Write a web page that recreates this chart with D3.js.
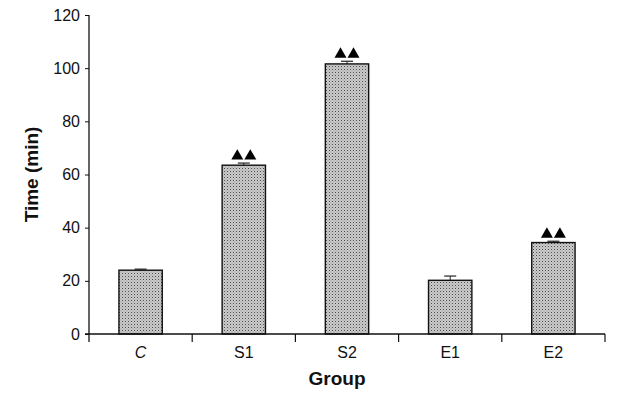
<!DOCTYPE html>
<html>
<head>
<meta charset="utf-8">
<script src="https://cdn.jsdelivr.net/npm/d3@7"></script>
<style>
  body { margin: 0; background: #fff; }
  svg text { font-family: "Liberation Sans", Arial, sans-serif; }
</style>
</head>
<body>
<svg id="chart" width="619" height="398"></svg>
<script>
// data
const groups = ['C', 'S1', 'S2', 'E1', 'E2'];
const means  = [24.0, 63.5, 101.6, 20.2, 34.4];
const errs   = [0.4, 0.8, 1.0, 1.6, 0.5];
const marked = [false, true, true, false, true];   // ▲▲ markers
const yTicks = [0, 20, 40, 60, 80, 100, 120];

const svg = d3.select('#chart');
const m = { t: 15, r: 14, b: 64, l: 89 };
const W = 619, H = 398;
const innerW = W - m.l - m.r, innerH = H - m.t - m.b;

const x = d3.scaleBand().domain(groups).range([0, innerW]).paddingInner(0.58).paddingOuter(0.29);
const y = d3.scaleLinear().domain([0, 120]).range([innerH, 0]);

// stipple fill
const defs = svg.append('defs');
const pat = defs.append('pattern').attr('id', 'dots')
  .attr('width', 3).attr('height', 3).attr('patternUnits', 'userSpaceOnUse');
pat.append('rect').attr('width', 3).attr('height', 3).attr('fill', '#cccccc');
pat.append('rect').attr('x', 0).attr('y', 0).attr('width', 1).attr('height', 1).attr('fill', '#4a4a4a');
pat.append('rect').attr('x', 1.5).attr('y', 1.5).attr('width', 1).attr('height', 1).attr('fill', '#8a8a8a');

const g = svg.append('g').attr('transform', `translate(${m.l},${m.t})`);

const data = groups.map((k, i) => ({ k, v: means[i], e: errs[i], mk: marked[i] }));
const cx = d => x(d.k) + x.bandwidth() / 2;

// error bars (behind bars)
const eb = g.append('g').selectAll('g').data(data).join('g');
eb.append('line')
  .attr('x1', cx).attr('x2', cx)
  .attr('y1', d => y(d.v)).attr('y2', d => y(d.v + d.e))
  .attr('stroke', '#222').attr('stroke-width', 1);
eb.append('line')
  .attr('x1', d => cx(d) - 6).attr('x2', d => cx(d) + 6)
  .attr('y1', d => y(d.v + d.e)).attr('y2', d => y(d.v + d.e))
  .attr('stroke', '#222').attr('stroke-width', 1.2);

g.append('g').selectAll('rect').data(data).join('rect')
  .attr('x', d => x(d.k)).attr('y', d => y(d.v))
  .attr('width', x.bandwidth()).attr('height', d => y(0) - y(d.v))
  .attr('fill', 'url(#dots)').attr('stroke', '#111').attr('stroke-width', 1.4);

// ▲▲ markers
const tri = d3.symbol().type(d3.symbolTriangle).size(62);
const mk = g.append('g').selectAll('g').data(data.filter(d => d.mk)).join('g')
  .attr('transform', d => `translate(${cx(d)},${y(d.v + d.e) - 7})`);
[-6.5, 6.5].forEach(dx => {
  mk.append('path').attr('d', tri).attr('transform', `translate(${dx},0)`).attr('fill', '#000');
});

// y axis
const yAxis = g.append('g')
  .call(d3.axisLeft(y).tickValues(yTicks).tickSize(4).tickPadding(5).tickSizeOuter(0));
yAxis.select('.domain').attr('d', `M0,${y(120)}V${innerH + 8}`).attr('stroke', '#111').attr('stroke-width', 1.3);
yAxis.selectAll('.tick line').attr('stroke', '#111');
yAxis.selectAll('text').attr('font-size', 16).attr('fill', '#111');

// x axis: line with ticks between groups
const xg = g.append('g').attr('transform', `translate(0,${innerH})`);
xg.append('line').attr('x1', -4).attr('x2', innerW).attr('y1', 0).attr('y2', 0)
  .attr('stroke', '#111').attr('stroke-width', 1.3);
const sepTicks = groups.map((k, i) => i + 1);
xg.selectAll('.sep').data(sepTicks).join('line').attr('class', 'sep')
  .attr('x1', i => i * innerW / groups.length).attr('x2', i => i * innerW / groups.length)
  .attr('y1', 0).attr('y2', 8).attr('stroke', '#111').attr('stroke-width', 1.2);
xg.selectAll('.lab').data(groups).join('text').attr('class', 'lab')
  .attr('x', d => x(d) + x.bandwidth() / 2).attr('y', 24)
  .attr('text-anchor', 'middle').attr('font-size', 16).attr('fill', '#111')
  .style('font-style', d => d === 'C' ? 'italic' : 'normal')
  .text(d => d);

// axis titles
svg.append('text').attr('x', m.l + innerW / 2 - 10).attr('y', 385)
  .attr('text-anchor', 'middle').attr('font-size', 19).attr('font-weight', 'bold').attr('fill', '#111')
  .text('Group');
svg.append('text').attr('transform', `translate(38,${m.t + innerH / 2}) rotate(-90)`)
  .attr('text-anchor', 'middle').attr('font-size', 19).attr('font-weight', 'bold').attr('fill', '#111')
  .text('Time (min)');
</script>
</body>
</html>
